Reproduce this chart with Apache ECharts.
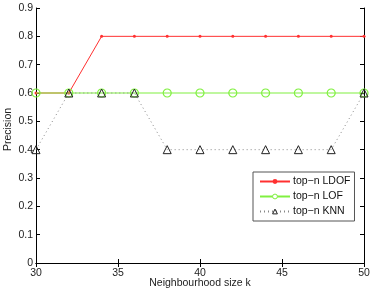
<!DOCTYPE html>
<html><head><meta charset="utf-8">
<script src="https://cdn.jsdelivr.net/npm/echarts@6/dist/echarts.min.js"></script>
<style>html,body{margin:0;padding:0;background:#fff}#c{width:374px;height:291px}</style>
</head><body><div id="c"></div>
<script>
const kValues = [30, 32, 34, 36, 38, 40, 42, 44, 46, 48, 50];
const ldof = [0.6, 0.6, 0.8, 0.8, 0.8, 0.8, 0.8, 0.8, 0.8, 0.8, 0.8];
const lof  = [0.6, 0.6, 0.6, 0.6, 0.6, 0.6, 0.6, 0.6, 0.6, 0.6, 0.6];
const knn  = [0.4, 0.6, 0.6, 0.6, 0.4, 0.4, 0.4, 0.4, 0.4, 0.4, 0.6];
const seriesNames = ['top\u2212n LDOF', 'top\u2212n LOF', 'top\u2212n KNN'];
const xTitle = 'Neighbourhood size k';
const yTitle = 'Precision';

const pairs = v => kValues.map((k, i) => [k, v[i]]);
const font = 'Liberation Sans, Arial, sans-serif';
const axisCommon = {
  axisLine: {lineStyle: {color: '#000', width: 1}},
  axisTick: {inside: true, length: 4, lineStyle: {color: '#000'}},
  splitLine: {show: false}
};
const chart = echarts.init(document.getElementById('c'), null, {renderer: 'canvas'});
chart.setOption({
  animation: false,
  backgroundColor: '#fff',
  grid: {left: 36, right: 10, top: 8, bottom: 28, containLabel: false, outerBoundsMode: 'none'},
  xAxis: [
    Object.assign({type: 'value', min: 30, max: 50, interval: 5, position: 'bottom',
      name: xTitle, nameLocation: 'middle', nameGap: 15, nameMoveOverlap: false,
      nameTextStyle: {fontFamily: font, fontSize: 10.5, color: '#222'},
      axisLabel: {fontFamily: font, fontSize: 10.5, color: '#222', margin: 5}}, axisCommon),
    Object.assign({type: 'value', min: 30, max: 50, interval: 5, position: 'top',
      axisLabel: {show: false}}, axisCommon)
  ],
  yAxis: [
    Object.assign({type: 'value', min: 0, max: 0.9, interval: 0.1, position: 'left',
      name: yTitle, nameLocation: 'middle', nameGap: 22, nameRotate: 90, nameMoveOverlap: false,
      nameTextStyle: {fontFamily: font, fontSize: 10.5, color: '#222', padding: [0, 0, 0, 12]},
      axisLabel: {fontFamily: font, fontSize: 10.5, color: '#222', margin: 3,
        formatter: v => (Math.round(v * 10) / 10).toString()}}, axisCommon),
    Object.assign({type: 'value', min: 0, max: 0.9, interval: 0.1, position: 'right',
      axisLabel: {show: false}}, axisCommon)
  ],
  legend: {
    orient: 'vertical', left: 253, top: 172, itemGap: 4,
    itemWidth: 30, itemHeight: 6,
    backgroundColor: '#fff', borderColor: '#555', borderWidth: 1, borderRadius: 0,
    padding: [4, 4, 4, 6],
    textStyle: {fontFamily: font, fontSize: 10.5, color: '#111', padding: [0, 0, 0, -2]},
    data: [
      {name: seriesNames[0], itemStyle: {color: '#ff3030', borderWidth: 0}},
      {name: seriesNames[1], itemStyle: {color: '#fff', borderColor: '#80f040', borderWidth: 1}},
      {name: seriesNames[2], itemStyle: {color: '#fff', borderColor: '#222', borderWidth: 1}}
    ]
  },
  series: [
    {name: seriesNames[0], type: 'line', data: pairs(ldof), symbol: 'circle', symbolSize: 3,
      lineStyle: {color: '#ff3030', width: 1}, itemStyle: {color: '#ff3030'}, z: 2},
    {name: seriesNames[1], type: 'line', data: pairs(lof), symbol: 'circle', symbolSize: 8,
      lineStyle: {color: '#80f040', width: 1.2}, itemStyle: {color: 'rgba(255,255,255,0)', borderColor: '#80f040', borderWidth: 1.2}, z: 3},
    {name: seriesNames[2], type: 'line', data: pairs(knn), symbol: 'triangle', symbolSize: 8,
      lineStyle: {color: '#888', width: 1, type: [1, 3]}, itemStyle: {color: 'rgba(255,255,255,0)', borderColor: '#222', borderWidth: 1}, z: 4}
  ]
});
</script></body></html>
